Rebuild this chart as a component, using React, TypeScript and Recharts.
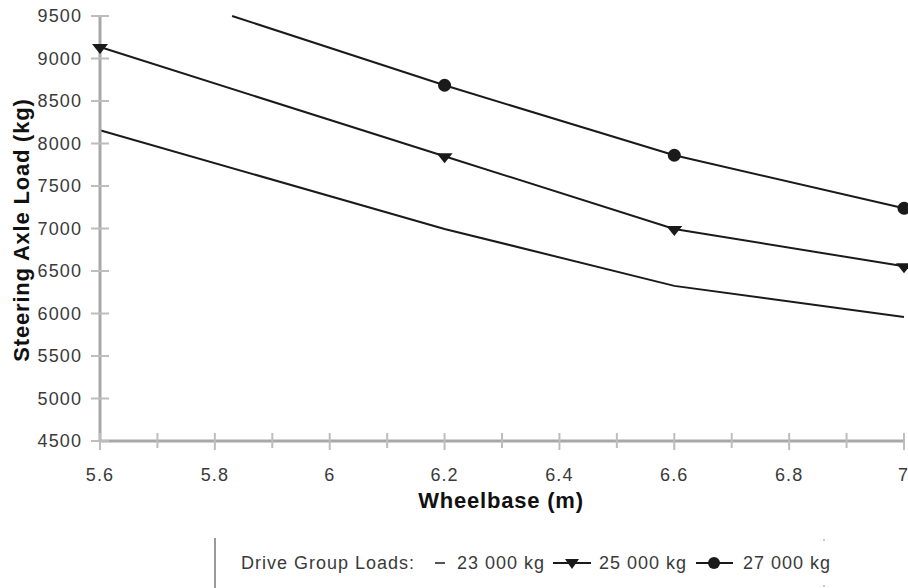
import { Line, LineChart, XAxis, YAxis } from 'recharts';

// wheelbase (m) sampled points
const wheelbase = [5.6, 6.2, 6.6, 7];
// the 27 000 kg curve only enters the chart at ~5.83 m (top edge, 9500 kg)
const wheelbase27 = [5.83, 6.2, 6.6, 7];

// steering axle load (kg) per drive group load
const load23000 = [8155, 6995, 6325, 5960];
const load25000 = [9135, 7850, 6995, 6555];
const load27000 = [9500, 8685, 7862, 7238];

const seriesNames = ['23 000 kg', '25 000 kg', '27 000 kg'];
const seriesMarkers = ['none', 'triangle', 'circle'];

const yTicks = [4500, 5000, 5500, 6000, 6500, 7000, 7500, 8000, 8500, 9000, 9500];
const xTicks = [5.6, 5.7, 5.8, 5.9, 6, 6.1, 6.2, 6.3, 6.4, 6.5, 6.6, 6.7, 6.8, 6.9, 7];
const xTickLabels = ['5.6', '5.8', '6', '6.2', '6.4', '6.6', '6.8', '7'];

const FONT = '"Liberation Sans", Arial, sans-serif';
const LINE_COLOR = '#1a1a1a';
const AXIS_COLOR = '#a8a8a8';
const TICK_COLOR = '#bdbdbd';
const TEXT_COLOR = '#3a3a3a';

const toPoints = (xs: number[], ys: number[]) => xs.map((w, i) => ({ w, load: ys[i] }));

const seriesData = [
  toPoints(wheelbase, load23000),
  toPoints(wheelbase, load25000),
  toPoints(wheelbase27, load27000),
];

const trianglePath = (cx: number, cy: number, half: number, up: number, down: number) =>
  `M${cx - half},${cy - up} L${cx + half},${cy - up} L${cx},${cy + down} Z`;

const renderTriangle = (props: any) => (
  <path key={`tri-${props.index}`} d={trianglePath(props.cx, props.cy, 8, 3, 7)} fill={LINE_COLOR} />
);

// the 27 000 kg series has no marker where it enters at the top edge
const renderCircle = (props: any) =>
  props.index === 0 ? (
    <g key={`dot-${props.index}`} />
  ) : (
    <circle key={`dot-${props.index}`} cx={props.cx} cy={props.cy} r={6.5} fill={LINE_COLOR} />
  );

const YTick = (props: any) => {
  const { x, y, payload } = props;
  return (
    <g>
      <line x1={x - 9} x2={x + 9} y1={y} y2={y} stroke={TICK_COLOR} strokeWidth={2} />
      <text
        x={x - 18}
        y={y}
        dy="0.36em"
        textAnchor="end"
        fontFamily={FONT}
        fontSize={18}
        letterSpacing={1.1}
        fill={TEXT_COLOR}
      >
        {payload.value}
      </text>
    </g>
  );
};

const XTick = (props: any) => {
  const { x, y, index } = props;
  const major = index % 2 === 0;
  const last = index === xTicks.length - 1;
  return (
    <g>
      <line x1={x} x2={x} y1={y - 8} y2={y + (major ? 9 : 7)} stroke={TICK_COLOR} strokeWidth={2} />
      {major && (
        <text
          x={last ? x + 4 : x}
          y={y + 40}
          textAnchor={last ? 'end' : 'middle'}
          fontFamily={FONT}
          fontSize={18}
          letterSpacing={last ? 0 : 1.1}
          fill={TEXT_COLOR}
        >
          {xTickLabels[index / 2]}
        </text>
      )}
    </g>
  );
};

const ChartLegend = () => {
  const textProps = {
    fontFamily: FONT,
    fontSize: 18,
    letterSpacing: 1,
    fill: TEXT_COLOR,
  };
  const baseline = 569;
  const mid = 563;
  return (
    <svg width={908} height={588} style={{ position: 'absolute', left: 0, top: 0, pointerEvents: 'none' }}>
      <line x1={215} x2={215} y1={538} y2={588} stroke="#9a9a9a" strokeWidth={2} />
      <rect x={823} y={539} width={2} height={2} fill="#c8c8c8" />
      <rect x={823} y={585} width={2} height={2} fill="#c8c8c8" />
      <text x={241} y={baseline} {...textProps}>Drive Group Loads:</text>

      <line x1={435} x2={445} y1={mid} y2={mid} stroke="#555" strokeWidth={2} />
      <text x={457} y={baseline} {...textProps}>{seriesNames[0]}</text>

      <line x1={553} x2={591} y1={mid} y2={mid} stroke={LINE_COLOR} strokeWidth={2} />
      <path d={trianglePath(572, mid, 7, 4, 6)} fill={LINE_COLOR} />
      <text x={599} y={baseline} {...textProps}>{seriesNames[1]}</text>

      <line x1={696} x2={733} y1={mid} y2={mid} stroke={LINE_COLOR} strokeWidth={2} />
      <circle cx={714} cy={mid} r={6} fill={LINE_COLOR} />
      <text x={743} y={baseline} {...textProps}>{seriesNames[2]}</text>
    </svg>
  );
};

export default function App() {
  return (
    <div style={{ position: 'absolute', left: 0, top: 0, width: 908, height: 588, background: '#fff' }}>
      <LineChart width={908} height={588} margin={{ top: 16, right: 4, bottom: 146, left: 99 }}>
        <XAxis
          type="number"
          dataKey="w"
          domain={[5.6, 7]}
          ticks={xTicks}
          interval={0}
          height={1}
          tickSize={0}
          tickMargin={0}
          tickLine={false}
          tick={<XTick />}
          axisLine={{ stroke: AXIS_COLOR, strokeWidth: 3 }}
        />
        <YAxis
          type="number"
          domain={[4500, 9500]}
          ticks={yTicks}
          interval={0}
          width={1}
          tickSize={0}
          tickMargin={0}
          tickLine={false}
          tick={<YTick />}
          axisLine={{ stroke: AXIS_COLOR, strokeWidth: 3 }}
        />
        {seriesData.map((points, i) => (
          <Line
            key={seriesNames[i]}
            data={points}
            type="linear"
            dataKey="load"
            name={seriesNames[i]}
            stroke={LINE_COLOR}
            strokeWidth={2}
            dot={seriesMarkers[i] === 'triangle' ? renderTriangle : seriesMarkers[i] === 'circle' ? renderCircle : false}
            activeDot={false}
            isAnimationActive={false}
          />
        ))}
      </LineChart>
      <svg width={908} height={588} style={{ position: 'absolute', left: 0, top: 0, pointerEvents: 'none' }}>
        <text
          x={501}
          y={508}
          textAnchor="middle"
          fontFamily={FONT}
          fontSize={22}
          fontWeight="bold"
          letterSpacing={0.8}
          fill="#111"
        >
          Wheelbase (m)
        </text>
        <text
          transform="translate(29, 230) rotate(-90)"
          textAnchor="middle"
          fontFamily={FONT}
          fontSize={22}
          fontWeight="bold"
          letterSpacing={0.8}
          fill="#111"
        >
          Steering Axle Load (kg)
        </text>
      </svg>
      <ChartLegend />
    </div>
  );
}
